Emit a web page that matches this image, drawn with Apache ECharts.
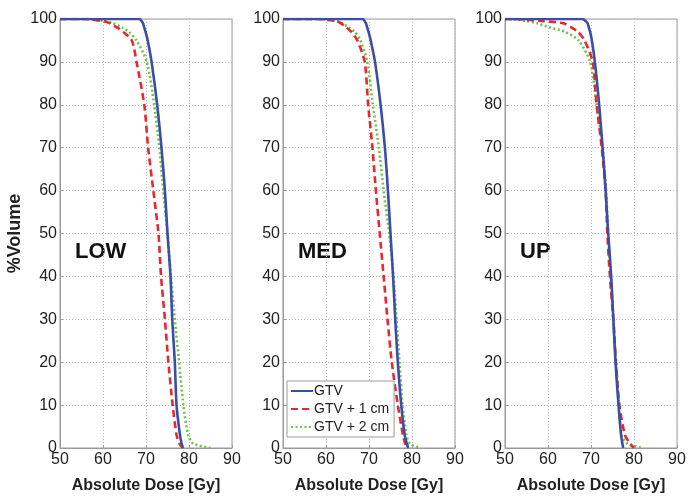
<!DOCTYPE html>
<html>
<head>
<meta charset="utf-8">
<title>DVH</title>
<script src="https://cdn.jsdelivr.net/npm/echarts@6/dist/echarts.min.js"></script>
<style>
  html, body { margin: 0; padding: 0; background: #fff; }
  #main { width: 695px; height: 501px; }
</style>
</head>
<body>
<div id="main"></div>
<script>
// volume levels (%) shared by all curves
var volLevels = [100, 100, 99.5, 99, 98, 97, 95, 90, 80, 70, 60, 50, 40, 30, 20, 10, 3, 1, 0];

// dose (Gy) at each volume level
var lowGtv  = [50, 68.5, 69.0, 69.3, 69.6, 69.9, 70.4, 71.3, 72.6, 73.6, 74.4, 75.0, 75.7, 76.1, 76.7, 77.1, 77.9, 78.3, 78.6];
var lowGtv1 = [50, 56.0, 60.0, 61.6, 63.3, 64.7, 66.7, 67.8, 69.6, 70.5, 71.7, 72.9, 73.5, 74.4, 75.2, 76.2, 77.1, 77.8, 78.5];
var lowGtv2 = [50, 56.0, 60.5, 62.3, 64.5, 66.0, 67.8, 70.2, 71.9, 73.1, 74.0, 75.0, 75.8, 76.7, 77.7, 78.7, 79.8, 81.0, 85.0];

var medGtv  = [50, 68.6, 69.0, 69.3, 69.6, 69.9, 70.4, 71.4, 72.7, 73.7, 74.4, 75.0, 75.6, 76.1, 76.7, 77.5, 78.3, 78.8, 79.1];
var medGtv1 = [50, 58.0, 62.5, 63.5, 64.8, 65.9, 67.3, 69.0, 69.8, 70.8, 71.6, 72.5, 73.4, 74.3, 75.3, 76.7, 77.9, 78.4, 78.7];
var medGtv2 = [50, 58.0, 62.5, 63.8, 65.3, 66.7, 68.0, 69.6, 70.9, 72.3, 73.4, 74.7, 75.7, 76.4, 77.1, 77.8, 78.7, 79.5, 81.8];

var upGtv   = [50, 68.0, 68.8, 69.2, 69.5, 69.8, 70.2, 70.9, 71.9, 72.7, 73.4, 74.0, 74.7, 75.2, 75.7, 76.4, 77.0, 77.3, 77.5];
var upGtv1  = [50, 52.0, 58.9, 63.6, 65.5, 67.0, 68.5, 70.4, 71.3, 72.5, 73.4, 73.8, 74.4, 75.2, 75.8, 76.6, 77.9, 79.1, 80.0];
var upGtv2  = [50, 50.5, 55.0, 57.5, 60.5, 64.0, 67.1, 69.8, 71.3, 72.7, 73.5, 74.0, 74.6, 75.2, 75.8, 76.5, 77.1, 78.5, 82.0];

var panelNames = ['LOW', 'MED', 'UP'];
var seriesNames = ['GTV', 'GTV + 1 cm', 'GTV + 2 cm'];

var panelData = [
  [lowGtv, lowGtv1, lowGtv2],
  [medGtv, medGtv1, medGtv2],
  [upGtv, upGtv1, upGtv2]
];

var colors = ['#3a4ea6', '#e8282c', '#6cc24a'];
var lineTypes = ['solid', [7, 4], [2, 2.5]];
var gridLefts = [60, 283, 505];

function pairs(doses) {
  return doses.map(function (d, i) { return [d, volLevels[i]]; });
}

var grids = [], xAxes = [], yAxes = [], series = [], graphics = [];
gridLefts.forEach(function (left, p) {
  grids.push({
    left: left, top: 19, width: 172, height: 429,
    show: true, borderColor: '#9a9a9a', borderWidth: 1, backgroundColor: '#fff'
  });
  xAxes.push({
    type: 'value', gridIndex: p, min: 50, max: 90, interval: 10,
    name: 'Absolute Dose [Gy]', nameLocation: 'middle', nameGap: 30,
    nameTextStyle: { fontFamily: 'Liberation Sans', fontWeight: 'bold', fontSize: 16, color: '#222' },
    axisLine: { show: true, lineStyle: { color: '#9a9a9a' } },
    axisTick: { show: true, inside: true, length: 3, lineStyle: { color: '#9a9a9a' } },
    axisLabel: { fontFamily: 'Liberation Sans', fontSize: 16, color: '#222', margin: 4 },
    splitLine: { show: true, lineStyle: { color: '#b8b8b8', type: [1, 2] } }
  });
  yAxes.push({
    type: 'value', gridIndex: p, min: 0, max: 100, interval: 10,
    name: p === 0 ? '%Volume' : '', nameLocation: 'middle', nameGap: 36, nameRotate: 90,
    nameTextStyle: { fontFamily: 'Liberation Sans', fontWeight: 'bold', fontSize: 18, color: '#222' },
    axisLine: { show: true, lineStyle: { color: '#9a9a9a' } },
    axisTick: { show: true, inside: true, length: 3, lineStyle: { color: '#9a9a9a' } },
    axisLabel: { fontFamily: 'Liberation Sans', fontSize: 16, color: '#222', margin: 3 },
    splitLine: { show: true, lineStyle: { color: '#b8b8b8', type: [1, 2] } }
  });
  // draw order: green, red, blue on top
  [2, 1, 0].forEach(function (s) {
    series.push({
      type: 'line', name: seriesNames[s], xAxisIndex: p, yAxisIndex: p,
      data: pairs(panelData[p][s]), symbol: 'none', smooth: 0.25,
      color: colors[s], z: 3 - s,
      lineStyle: { color: colors[s], width: 2.6, type: lineTypes[s] }
    });
  });
  graphics.push({
    type: 'text', left: left + 15, top: 241,
    style: { text: panelNames[p], fontFamily: 'Liberation Sans', fontWeight: 'bold', fontSize: 22, fill: '#111' }
  });
});

var myChart = echarts.init(document.getElementById('main'));
myChart.setOption({
  animation: false,
  grid: grids,
  xAxis: xAxes,
  yAxis: yAxes,
  series: series,
  graphic: graphics,
  legend: {
    data: seriesNames,
    orient: 'vertical',
    left: 287, top: 381,
    itemWidth: 22, itemHeight: 10, itemGap: 4,
    padding: [3, 5, 3, 3],
    backgroundColor: '#fff',
    borderColor: '#9a9a9a', borderWidth: 1,
    itemStyle: { opacity: 0 },
    textStyle: { fontFamily: 'Liberation Sans', fontSize: 14, color: '#222', padding: [0, 0, 0, -4] }
  }
});
</script>
</body>
</html>
